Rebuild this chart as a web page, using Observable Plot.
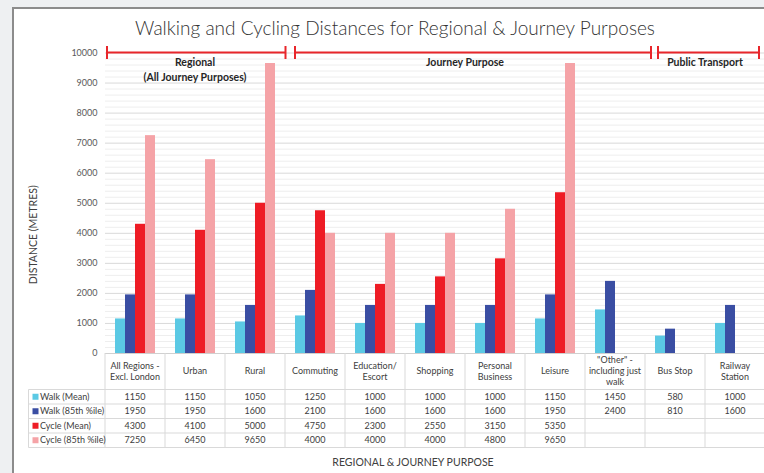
<!DOCTYPE html>
<html><head><meta charset="utf-8">
<script src="https://cdn.jsdelivr.net/npm/d3@7"></script>
<script src="https://cdn.jsdelivr.net/npm/@observablehq/plot@0.6"></script>
<style>
html,body{margin:0;padding:0;background:#eef0f2;}
#wrap{position:relative;width:764px;height:473px;overflow:hidden;font-family:Lato,"Open Sans",sans-serif;}
#card{position:absolute;left:12px;top:7px;width:800px;height:520px;background:#fff;border-left:2px solid #8c8c8c;border-top:2px solid #8c8c8c;box-sizing:border-box;}
#title{position:absolute;left:0;width:790px;top:16px;line-height:24px;text-align:center;font-size:19px;font-weight:300;color:#333;white-space:nowrap;}
#chart{position:absolute;left:0;top:0;}
</style></head>
<body>
<div id="wrap"><div id="card"></div><div id="title">Walking and Cycling Distances for Regional &amp; Journey Purposes</div><div id="chart"></div></div>
<script>
const categories = ["All Regions - Excl. London", "Urban", "Rural", "Commuting", "Education/ Escort", "Shopping", "Personal Business", "Leisure", "\"Other\" - including just walk", "Bus Stop", "Railway Station"];
const headerLines = [["All Regions -","Excl. London"],["Urban"],["Rural"],["Commuting"],["Education/","Escort"],["Shopping"],["Personal","Business"],["Leisure"],["\"Other\" -","including just","walk"],["Bus Stop"],["Railway","Station"]];
const seriesNames = ["Walk (Mean)", "Walk (85th %ile)", "Cycle (Mean)", "Cycle (85th %ile)"];
const seriesColors = ["#5bc9e4", "#3a4ea3", "#ee1c25", "#f5a3a7"];
const walkMean  = [1150, 1150, 1050, 1250, 1000, 1000, 1000, 1150, 1450, 580, 1000];
const walk85    = [1950, 1950, 1600, 2100, 1600, 1600, 1600, 1950, 2400, 810, 1600];
const cycleMean = [4300, 4100, 5000, 4750, 2300, 2550, 3150, 5350, null, null, null];
const cycle85   = [7250, 6450, 9650, 4000, 4000, 4000, 4800, 9650, null, null, null];
const yTicks = [0, 1000, 2000, 3000, 4000, 5000, 6000, 7000, 8000, 9000, 10000];
const groups = [
  {label: ["Regional", "(All Journey Purposes)"], first: 0, last: 2},
  {label: ["Journey Purpose"], first: 3, last: 8},
  {label: ["Public Transport"], first: 9, last: 10}
];

const seriesValues = [walkMean, walk85, cycleMean, cycle85];
const bars = [];
categories.forEach((c, i) => seriesValues.forEach((vals, j) => {
  if (vals[i] != null) bars.push({category: c, series: seriesNames[j], value: vals[i]});
}));
const minorTicks = d3.range(0, 10001, 200).filter(d => d % 1000 !== 0);

const chart = Plot.plot({
  width: 770, height: 473,
  marginLeft: 104, marginRight: 4, marginTop: 52.5, marginBottom: 120,
  fx: {domain: categories, padding: 0, axis: null, label: null},
  x: {domain: seriesNames, paddingInner: 0, paddingOuter: 1, axis: null},
  y: {domain: [0, 10000], axis: null},
  color: {domain: seriesNames, range: seriesColors},
  style: {background: "transparent", maxWidth: "none", overflow: "visible", fontFamily: "Lato, 'Open Sans', sans-serif"},
  marks: [
    Plot.gridY(minorTicks, {stroke: "#eeeeee", strokeOpacity: 1}),
    Plot.gridY(yTicks.slice(1), {stroke: "#d9d9d9", strokeOpacity: 1}),
    Plot.axisY(yTicks, {tickSize: 0, tickPadding: 8, fontSize: 9, fill: "#595959", tickFormat: d => String(d), label: null}),
    Plot.barY(bars, {fx: "category", x: "series", y: "value", fill: "series"}),
    Plot.ruleY([0], {stroke: "#d0d0d0"})
  ]
});
document.getElementById("chart").appendChild(chart);

// Table, brackets and axis titles drawn from the library's scales
const fx = chart.scale("fx"), ys = chart.scale("y");
const bw = fx.bandwidth;
const left = c => fx.apply(c);
const svg = d3.select(chart);
const g = svg.append("g").attr("font-family", "Lato, 'Open Sans', sans-serif").attr("fill", "#404040").attr("text-anchor", "middle");
const y0 = ys.apply(0);
const headBottom = y0 + 36.5, rowH = 14.5;
const tableRight = left(categories[categories.length - 1]) + bw;
const lineColor = "#d9d9d9";
const fs = 9;
// vertical column lines
categories.forEach(c => {
  g.append("line").attr("x1", left(c)).attr("x2", left(c)).attr("y1", y0).attr("y2", headBottom + 4 * rowH).attr("stroke", lineColor);
});
g.append("line").attr("x1", tableRight).attr("x2", tableRight).attr("y1", y0).attr("y2", headBottom + 4 * rowH).attr("stroke", lineColor);
g.append("line").attr("x1", 28.5).attr("x2", 28.5).attr("y1", headBottom).attr("y2", headBottom + 4 * rowH).attr("stroke", lineColor);
for (let r = 0; r <= 4; r++) {
  g.append("line").attr("x1", 28.5).attr("x2", tableRight).attr("y1", headBottom + r * rowH).attr("y2", headBottom + r * rowH).attr("stroke", lineColor);
}
// header
categories.forEach((c, i) => {
  const lines = headerLines[i];
  const cx = left(c) + bw / 2, cy = (y0 + headBottom) / 2;
  lines.forEach((t, k) => {
    g.append("text").attr("x", cx).attr("y", cy - (lines.length - 1) * 5.5 + k * 11 + 3)
      .attr("text-anchor", "middle").attr("font-size", fs).text(t);
  });
});
// rows
seriesNames.forEach((s, r) => {
  const cy = headBottom + r * rowH + rowH / 2;
  g.append("rect").attr("x", 32.5).attr("y", cy - 3).attr("width", 6).attr("height", 6).attr("fill", seriesColors[r]);
  g.append("text").attr("x", 40).attr("y", cy + 3).attr("text-anchor", "start").attr("font-size", fs).text(s);
  categories.forEach((c, i) => {
    const v = seriesValues[r][i];
    if (v != null) g.append("text").attr("x", left(c) + bw / 2).attr("y", cy + 3).attr("text-anchor", "middle").attr("font-size", fs).text(v);
  });
});
// brackets
const insets = [[2, 0.5], [10, 6], [13, -6]];
const yb = ys.apply(10000);
groups.forEach((grp, k) => {
  const x1 = left(categories[grp.first]) + insets[k][0];
  const x2 = left(categories[grp.last]) + bw + insets[k][1];
  const red = "#e8262b";
  g.append("line").attr("x1", x1).attr("x2", x2).attr("y1", yb).attr("y2", yb).attr("stroke", red).attr("stroke-width", 2);
  [x1, x2].forEach(x => g.append("line").attr("x1", x).attr("x2", x).attr("y1", yb - 6.5).attr("y2", yb + 6.5).attr("stroke", red).attr("stroke-width", 2));
  const cx = (left(categories[grp.first]) + left(categories[grp.last]) + bw) / 2;
  grp.label.forEach((t, j) => {
    g.append("text").attr("x", cx).attr("y", yb + 13.5 + j * 15).attr("text-anchor", "middle")
      .attr("font-size", 10.5).attr("font-weight", 700).attr("fill", "#262626").text(t);
  });
});
// axis titles
g.append("text").attr("transform", `translate(37,${(ys.apply(0) + ys.apply(10000)) / 2 + 32}) rotate(-90)`)
  .attr("text-anchor", "middle").attr("font-size", 10.5).text("DISTANCE (METRES)");
g.append("text").attr("x", 413).attr("y", 466).attr("text-anchor", "middle").attr("font-size", 10.5).text("REGIONAL & JOURNEY PURPOSE");
</script>
</body></html>
